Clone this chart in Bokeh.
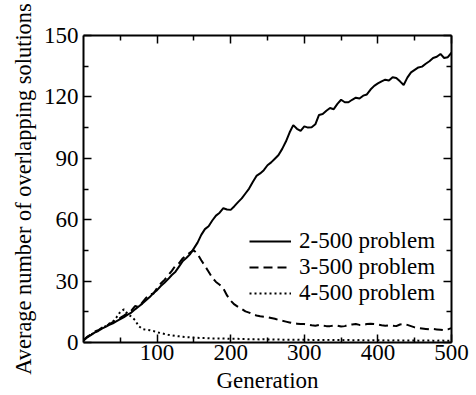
from bokeh.plotting import figure
from bokeh.models import Range1d, LinearAxis, FixedTicker, Legend, LegendItem
from bokeh.embed import file_html
from bokeh.resources import INLINE

generations = list(range(0, 505, 5))

p2_500 = [
    1.0, 2.5, 3.6, 4.8, 5.6, 6.8, 7.6, 8.6, 9.4, 10.4,
    11.4, 12.4, 13.6, 14.6, 16.2, 17.6, 19.0, 20.6, 22.2, 24.2,
    25.6, 27.6, 29.2, 31.0, 33.0, 34.6, 37.2, 39.8, 41.4, 43.2,
    46.0, 48.8, 52.6, 55.4, 56.8, 59.6, 62.0, 63.4, 65.6, 65.0,
    64.8, 66.6, 68.6, 70.4, 72.8, 75.2, 78.4, 81.4, 82.6, 84.2,
    86.6, 88.0, 89.8, 91.6, 94.6, 98.2, 102.6, 106.2, 104.4, 103.4,
    105.6, 105.0, 105.2, 106.6, 111.2, 111.6, 113.2, 114.6, 114.0, 116.6,
    118.6, 117.4, 117.4, 118.6, 119.6, 119.2, 120.6, 121.2, 123.6, 125.4,
    126.6, 127.6, 128.4, 128.0, 129.6, 129.2, 127.6, 125.8, 129.4, 132.0,
    133.2, 134.4, 134.8, 136.2, 137.4, 139.0, 139.6, 141.0, 139.0, 139.4,
    141.6,
]

p3_500 = [
    1.2, 2.8, 4.0, 5.2, 6.0, 7.2, 8.0, 9.0, 10.0, 10.8,
    12.0, 13.2, 14.4, 15.6, 17.8, 17.4, 19.6, 21.8, 23.6, 23.8,
    26.6, 28.8, 30.6, 32.8, 35.0, 37.6, 38.8, 41.2, 42.6, 44.0,
    45.0, 43.2, 40.2, 37.4, 34.6, 31.6, 29.6, 28.2, 26.4, 23.0,
    20.4, 18.6, 17.4, 16.4, 15.2, 14.6, 13.8, 13.2, 12.8, 12.6,
    12.4, 12.0, 11.6, 11.0, 10.6, 10.2, 9.8, 9.4, 9.2, 9.0,
    9.0, 8.8, 8.4, 8.2, 8.6, 8.2, 8.0, 8.0, 8.2, 8.2,
    7.8, 8.0, 8.6, 8.8, 9.0, 8.6, 8.6, 9.0, 9.2, 9.0,
    8.8, 8.4, 8.2, 8.4, 8.2, 8.0, 8.8, 9.0, 8.6, 8.0,
    7.4, 7.0, 6.8, 6.6, 6.4, 6.6, 6.4, 6.2, 6.0, 6.4,
    7.0,
]

p4_500 = [
    1.0, 2.6, 3.8, 5.0, 6.0, 7.0, 8.0, 9.2, 10.2, 12.4,
    15.0, 16.2, 14.0, 12.6, 11.0, 8.0, 6.6, 6.2, 6.0, 5.6,
    5.0, 4.6, 4.2, 3.8, 3.5, 3.2, 3.0, 2.8, 2.6, 2.5,
    2.4, 2.3, 2.2, 2.2, 2.1, 2.0, 2.0, 2.0, 1.9, 1.9,
    1.8, 1.8, 1.8, 1.7, 1.7, 1.6, 1.6, 1.6, 1.5, 1.6,
    1.5, 1.5, 1.4, 1.5, 1.4, 1.4, 1.4, 1.3, 1.4, 1.3,
    1.3, 1.3, 1.2, 1.3, 1.2, 1.2, 1.2, 1.3, 1.2, 1.2,
    1.2, 1.1, 1.2, 1.1, 1.1, 1.2, 1.1, 1.1, 1.0, 1.1,
    1.1, 1.0, 1.1, 1.0, 1.0, 1.1, 1.0, 1.0, 1.0, 1.0,
    1.0, 0.9, 1.0, 0.9, 1.0, 0.9, 0.9, 1.0, 0.9, 0.9,
    0.9,
]

series_labels = ["2-500 problem", "3-500 problem", "4-500 problem"]
x_ticks = [100, 200, 300, 400, 500]
x_minor = [50, 150, 250, 350, 450]
y_ticks = [0, 30, 60, 90, 120, 150]
y_minor = [15, 45, 75, 105, 135]
x_title = "Generation"
y_title = "Average number of overlapping solutions"

FONT = "Times New Roman"
FS = "23px"

p = figure(width=476, height=395, output_backend="svg", toolbar_location=None,
           x_range=Range1d(0, 500), y_range=Range1d(0, 150),
           min_border_left=83, min_border_right=25, min_border_top=35, min_border_bottom=53,
           x_axis_label=x_title, y_axis_label=y_title)
p.grid.visible = False
p.outline_line_color = None

xt = FixedTicker(ticks=x_ticks, minor_ticks=x_minor)
yt = FixedTicker(ticks=y_ticks, minor_ticks=y_minor)

p.add_layout(LinearAxis(), "above")
p.add_layout(LinearAxis(), "right")

for ax in p.xaxis:
    ax.ticker = xt
for ax in p.yaxis:
    ax.ticker = yt

for ax in p.xaxis + p.yaxis:
    ax.axis_line_width = 2
    ax.axis_line_color = "black"
    ax.major_tick_in = 8
    ax.major_tick_out = 0
    ax.minor_tick_in = 5
    ax.minor_tick_out = 0
    ax.major_tick_line_width = 1.5
    ax.minor_tick_line_width = 1.5
    ax.major_tick_line_color = "black"
    ax.minor_tick_line_color = "black"
    ax.major_label_text_font = FONT
    ax.major_label_text_font_size = FS
    ax.major_label_text_color = "black"
    ax.axis_label_text_font = FONT
    ax.axis_label_text_font_style = "normal"
    ax.axis_label_text_color = "black"

p.above[0].major_label_text_font_size = "0px"
p.above[0].major_label_standoff = 0
p.right[0].major_label_text_font_size = "0px"
p.right[0].major_label_standoff = 0

p.below[0].major_label_standoff = 2
p.below[0].axis_label_standoff = 5
p.below[0].axis_label_text_font_size = FS
p.left[0].major_label_standoff = 5
p.left[0].axis_label_standoff = 5
p.left[0].axis_label_text_font_size = "22.4px"

r3 = p.line(generations, p3_500, line_color="black", line_width=2, line_dash="9 5")
r4 = p.line(generations, p4_500, line_color="black", line_width=2, line_dash="2 3")
r2 = p.line(generations, p2_500, line_color="black", line_width=2)

legend = Legend(items=[LegendItem(label=series_labels[0], renderers=[r2]),
                       LegendItem(label=series_labels[1], renderers=[r3]),
                       LegendItem(label=series_labels[2], renderers=[r4])],
                location=(166, 36), padding=0, margin=0, spacing=0,
                glyph_width=42, glyph_height=26, label_height=26, label_standoff=8,
                label_text_font=FONT, label_text_font_size=FS, label_text_color="black",
                background_fill_alpha=0, border_line_color=None)
p.add_layout(legend)

open("out.html", "w").write(file_html(p, INLINE))
